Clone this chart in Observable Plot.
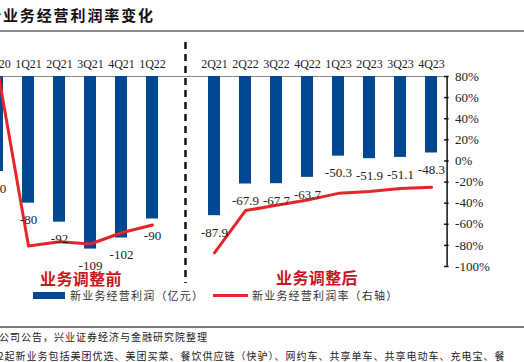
<!DOCTYPE html>
<html><head><meta charset="utf-8">
<script src="https://cdn.jsdelivr.net/npm/d3@7"></script>
<script src="https://cdn.jsdelivr.net/npm/@observablehq/plot@0.6"></script>
<style>
body{margin:0;background:#fff;}
#wrap{position:relative;width:524px;height:362px;overflow:hidden;background:#fff;font-family:"Noto Sans CJK SC",sans-serif;}
.abs{position:absolute;white-space:nowrap;}
#chart{position:absolute;left:0;top:36px;}
</style></head><body>
<div id="wrap">
  <div class="abs" style="left:-14px;top:4px;font-size:15px;font-weight:bold;letter-spacing:1.9px;color:#111;">新业务经营利润率变化</div>
  <div class="abs" style="left:0;top:30px;width:524px;height:2px;background:#8a8a8a;"></div>
  <div id="chart"></div>
  <div class="abs" style="left:40px;top:266px;font-size:16px;font-weight:bold;color:#c8161d;letter-spacing:0.4px;">业务调整前</div>
  <div class="abs" style="left:276px;top:265px;font-size:16px;font-weight:bold;color:#c8161d;letter-spacing:0.4px;">业务调整后</div>
  <div class="abs" style="left:33px;top:292px;width:32px;height:7px;background:#004891;"></div>
  <div class="abs" style="left:70px;top:287px;font-size:11px;letter-spacing:1.2px;color:#333;">新业务经营利润（亿元）</div>
  <div class="abs" style="left:213px;top:294px;width:35px;height:3px;background:#e4262a;"></div>
  <div class="abs" style="left:252px;top:287px;font-size:11px;letter-spacing:1.2px;color:#333;">新业务经营利润率（右轴）</div>
  <div class="abs" style="left:0;top:326px;width:524px;height:2px;background:#7a7a7a;"></div>
  <div class="abs" style="left:-1px;top:329px;font-size:10px;letter-spacing:1px;color:#222;">公司公告，兴业证券经济与金融研究院整理</div>
  <div class="abs" style="left:-2px;top:348px;font-size:10px;letter-spacing:1px;color:#222;">2起新业务包括美团优选、美团买菜、餐饮供应链（快驴）、网约车、共享单车、共享电动车、充电宝、餐</div>
</div>
<script>
const quarters = ["4Q20","1Q21","2Q21","3Q21","4Q21","1Q22","","2Q21","2Q22","3Q22","4Q22","1Q23","2Q23","3Q23","4Q23"];
const profit = [-60,-80,-92,-109,-102,-90,null,-87.9,-67.9,-67.7,-63.7,-50.3,-51.9,-51.1,-48.3];
const profitLabels = ["-60","-80","-92","-109","-102","-90","","-87.9","-67.9","-67.7","-63.7","-50.3","-51.9","-51.1","-48.3"];
const marginPct = [87,-80.6,-76.5,-78.7,-68,-60.7,null,-87,-47,-42,-37,-30.7,-29,-26,-25];
const pctTicks = [-100,-80,-60,-40,-20,0,20,40,60,80];

const toLeft = p => (p + 100) * 120 / 180 - 120;
const fromLeft = v => Math.round((v + 120) * 180 / 120 - 100);

const rows = quarters.map((q, i) => ({i, q, v: profit[i], label: profitLabels[i], m: marginPct[i] == null ? NaN : toLeft(marginPct[i])}));
const bars = rows.filter(d => d.v != null);

const W = 524, right = 448.6, step = 31.2;
const chart = Plot.plot({
  width: W, height: 250,
  marginTop: 40, marginBottom: 20, marginLeft: 0, marginRight: W - right,
  style: {fontFamily: "'Liberation Serif', serif", fontSize: "13px", color: "#222", background: "transparent"},
  x: {type: "band", domain: d3.range(quarters.length), range: [right - step * quarters.length, right], paddingInner: 0.6, paddingOuter: 0.3, axis: null, label: null},
  y: {domain: [-120, 0], axis: null, label: null},
  marks: [
    Plot.ruleY([0], {stroke: "#8a8a8a", strokeWidth: 1}),
    Plot.barY(bars, {x: "i", y: "v", fill: "#004891"}),
    Plot.ruleX([6], {dx: 2, stroke: "#111", strokeWidth: 2.5, strokeDasharray: "7,5", insetTop: -34, insetBottom: -17}),
    Plot.lineY(rows, {x: "i", y: "m", stroke: "#e4262a", strokeWidth: 3, curve: "linear"}),
    Plot.text(bars, {x: "i", y: "v", text: "label", dy: 17, lineAnchor: "middle", fontSize: 13, fill: "#222"}),
    Plot.axisX({anchor: "top", label: null, tickSize: 0, tickPadding: 9, fontSize: 12, tickFormat: i => quarters[i], fill: "#222"}),
    Plot.ruleX([quarters.length - 1], {dx: step / 2, stroke: "#111", strokeWidth: 1.5}),
    Plot.ruleY(pctTicks.map(toLeft), {stroke: "#111", strokeWidth: 1.5, insetLeft: right - 4.5}),
    Plot.axisY({anchor: "right", label: null, ticks: pctTicks.map(toLeft), tickFormat: v => fromLeft(v) + "%", tickSize: 0, tickPadding: 6, fontSize: 13, fill: "#222"})
  ]
});
document.getElementById("chart").appendChild(chart);
</script>
</body></html>
